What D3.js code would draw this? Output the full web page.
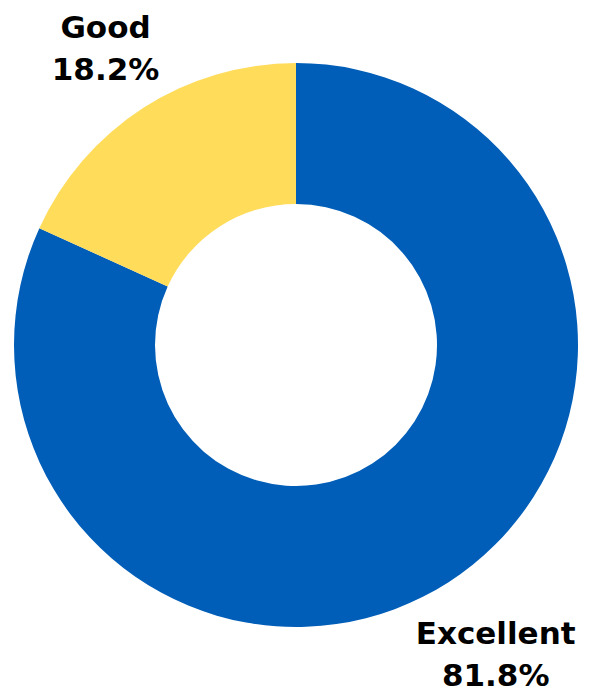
<!DOCTYPE html>
<html>
<head>
<meta charset="utf-8">
<script src="https://cdnjs.cloudflare.com/ajax/libs/d3/7.8.5/d3.min.js"></script>
<style>
  html, body { margin: 0; padding: 0; background: #fff; }
  .lbl { font-family: "DejaVu Sans", sans-serif; font-weight: bold; fill: #000; }
</style>
</head>
<body>
<div id="chart"></div>
<script>
// data
var categories = ["Excellent", "Good"];
var values = [81.8, 18.2];
var colors = ["#015EB8", "#FFDC5A"];

var svgWidth = 589;
var svgHeight = 692;

var cx = 296, cy = 345;
var outerR = 282, innerR = 141;

var svg = d3.select("#chart")
  .append("svg")
  .attr("width", svgWidth)
  .attr("height", svgHeight);

var chartGroup = svg.append("g")
  .attr("transform", `translate(${cx}, ${cy})`);

var color = d3.scaleOrdinal().domain(categories).range(colors);

var pie = d3.pie()
  .sort(null)
  .value(function(d, i) { return values[i]; });

var arcs = pie(categories);

var arc = d3.arc()
  .innerRadius(innerR)
  .outerRadius(outerR);

// slices
chartGroup.selectAll("path")
  .data(arcs)
  .enter()
  .append("path")
  .attr("d", arc)
  .attr("fill", d => color(d.data));

// labels outside the ring, along each slice's mid angle
var labelGroups = chartGroup.selectAll("g.lbl-g")
  .data(arcs)
  .enter()
  .append("g")
  .attr("class", "lbl-g")
  .attr("transform", function(d) {
    var a = (d.startAngle + d.endAngle) / 2;
    var r = d.data === "Good" ? 352 : 369;
    return `translate(${Math.sin(a) * r}, ${-Math.cos(a) * r})`;
  });

labelGroups.append("text")
  .attr("class", "lbl")
  .attr("text-anchor", "middle")
  .attr("font-size", 31)
  .attr("y", -11)
  .text(d => d.data);

labelGroups.append("text")
  .attr("class", "lbl")
  .attr("text-anchor", "middle")
  .attr("font-size", 31)
  .attr("y", 31)
  .text((d, i) => values[i].toFixed(1) + "%");
</script>
</body>
</html>
